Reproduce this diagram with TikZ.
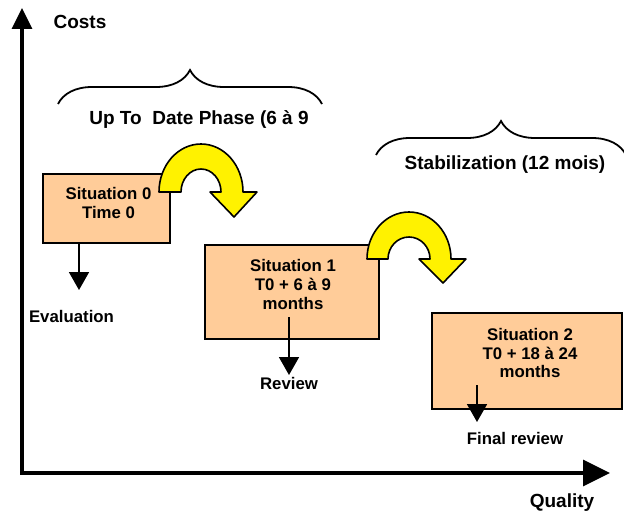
\documentclass[tikz,border=0pt]{standalone}
\usepackage{fontspec}
\setmainfont{Liberation Sans}
\usetikzlibrary{arrows.meta,decorations.pathreplacing}
\definecolor{peach}{RGB}{255,204,153}

\begin{document}
\begin{tikzpicture}[x=0.5pt,y=0.5pt,
    sitbox/.style={draw=black,line width=0.9pt,fill=peach,inner sep=0pt},
    boxtxt/.style={inner sep=0pt,align=center,font=\fontsize{8.4}{9.3}\selectfont\bfseries},
    smalltxt/.style={inner sep=0pt,font=\fontsize{8.4}{10}\selectfont\bfseries},
    bigtxt/.style={inner sep=0pt,font=\fontsize{9.5}{11}\selectfont\bfseries},
    brc/.style={decorate,decoration={brace,amplitude=17pt},line width=0.9pt},
    dnarr/.style={line width=0.9pt,-{Triangle[length=9pt,width=10pt]}},
    turn/.style={fill=yellow,draw=black,line width=0.8pt,line join=round}]
      \useasboundingbox (0,0) rectangle (624,-513);

      % axes
      \coordinate (o) at (22,-473);
      \coordinate (ytop) at (22,-8);
      \coordinate (xend) at (610,-473);
      \draw[line width=1.6pt,{Triangle[length=10.5pt,width=10pt]}-{Triangle[length=13.5pt,width=13pt]}] (ytop) -- (o) -- (xend);
      \node[bigtxt] (cst) at (80,-22){Costs};
      \node[bigtxt] (qlt) at (562,-503){Quality};

      % phases
      \coordinate (bl1) at (58,-104);
      \coordinate (br1) at (322,-104);
      \coordinate (bl2) at (376,-155);
      \coordinate (br2) at (626,-155);
      \draw[brc] (bl1) -- (br1);
      \draw[brc] (bl2) -- (br2);
      \node[bigtxt] (ph1) at (199,-120){Up To\ \ Date Phase (6 à 9};
      \node[bigtxt] (ph2) at (505,-165){Stabilization (12 mois)};

      % situations
      \node[sitbox,minimum width=63.5pt,minimum height=34.5pt] (s0) at (106.5,-208.5){};
      \node[sitbox,minimum width=87pt,minimum height=47pt] (s1) at (292,-292){};
      \node[sitbox,minimum width=95pt,minimum height=48pt] (s2) at (527,-361){};
      \node[boxtxt] (t0) at (108.5,-203){Situation 0\\Time 0};
      \node[boxtxt] (t1) at (293,-284.5){Situation 1\\T0 + 6 à 9\\months};
      \node[boxtxt] (t2) at (530,-353){Situation 2\\T0 + 18 à 24\\months};

      % turn arrows
      \filldraw[turn,shift={(201,-192)}] (-42,0) arc[start angle=180,end angle=0,x radius=42,y radius=48]
        -- (56,0) -- (33,-25) -- (9,0) -- (20,0) arc[start angle=0,end angle=180,x radius=20,y radius=23] -- cycle;
      \filldraw[turn,shift={(409,-259)}] (-42,0) arc[start angle=180,end angle=0,x radius=42,y radius=47]
        -- (57,0) -- (34,-24) -- (10,0) -- (21,0) arc[start angle=0,end angle=180,x radius=21,y radius=22] -- cycle;

      % reviews
      \coordinate (e0) at (79,-290);
      \coordinate (b1) at (289,-317);
      \coordinate (e1) at (289,-375);
      \coordinate (b2) at (477,-385);
      \coordinate (e2) at (477,-422);
      \draw[dnarr] (s0.south -| e0) -- (e0);
      \draw[dnarr] (b1) -- (e1);
      \draw[dnarr] (b2) -- (e2);
      \node[smalltxt] (ev) at (71.5,-316){Evaluation};
      \node[smalltxt] (rv) at (289,-383){Review};
      \node[smalltxt] (fr) at (515,-438){Final review};
\end{tikzpicture}
\end{document}
